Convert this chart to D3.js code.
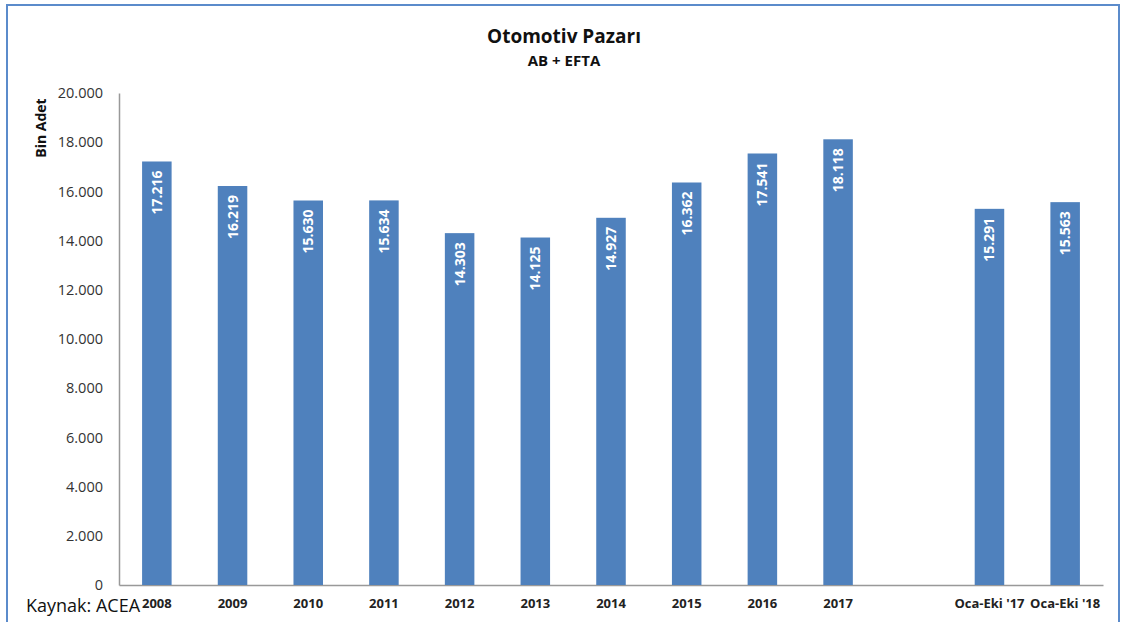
<!DOCTYPE html>
<html>
<head>
<meta charset="utf-8">
<script src="https://cdn.jsdelivr.net/npm/d3@7"></script>
<style>
  html, body { margin: 0; padding: 0; background: #fff; }
  svg { display: block; font-family: "Open Sans", "Noto Sans", sans-serif; }
</style>
</head>
<body>
<div id="mainDiv"></div>
<script>
'use strict';

// chart values (bin adet)
var categories = ['2008', '2009', '2010', '2011', '2012', '2013', '2014', '2015', '2016', '2017', '', "Oca-Eki '17", "Oca-Eki '18"];
var values = [17216, 16219, 15630, 15634, 14303, 14125, 14927, 16362, 17541, 18118, null, 15291, 15563];
var yTicks = [0, 2000, 4000, 6000, 8000, 10000, 12000, 14000, 16000, 18000, 20000];

var W = 1121, H = 622;
var margins = { top: 93, left: 119, right: 18, bottom: 37 };
var cw = 1103 - margins.left;
var ch = 585 - margins.top;

var fmt = function (v) {
    return v === 0 ? '0' : d3.format(',')(v).replace(/,/g, '.');
};

var svg = d3.select('#mainDiv').append('svg')
    .attr('width', W)
    .attr('height', H);

// outer frame
svg.append('rect')
    .attr('x', 7).attr('y', 5)
    .attr('width', 1112).attr('height', 630)
    .attr('fill', 'none')
    .attr('stroke', '#5b8bcb')
    .attr('stroke-width', 2);

svg.append('text')
    .attr('x', 564).attr('y', 43)
    .attr('text-anchor', 'middle')
    .attr('font-size', '19px')
    .attr('font-weight', 'bold')
    .attr('fill', '#111')
    .text('Otomotiv Pazarı');

svg.append('text')
    .attr('x', 564).attr('y', 66)
    .attr('text-anchor', 'middle')
    .attr('font-size', '15px')
    .attr('font-weight', 'bold')
    .attr('fill', '#111')
    .text('AB + EFTA');

var xScale = d3.scaleBand().domain(categories).range([0, cw]).paddingInner(0.61).paddingOuter(0.305);
var yScale = d3.scaleLinear().domain([0, 20000]).range([ch, 0]);

var g = svg.append('g')
    .attr('transform', 'translate(' + margins.left + ',' + margins.top + ')');

var yAxis = d3.axisLeft(yScale).tickValues(yTicks).tickFormat(fmt).tickSize(0).tickPadding(16);
var yAxisGroup = g.append('g').attr('class', 'yAxis').call(yAxis);
yAxisGroup.select('.domain').attr('stroke', '#999').attr('stroke-width', 1.5);
yAxisGroup.selectAll('text')
    .attr('font-size', '14.5px')
    .attr('fill', '#333')
    .attr('font-family', '"Open Sans", sans-serif');

var xAxis = d3.axisBottom(xScale).tickSize(0).tickPadding(14);
var xAxisGroup = g.append('g').attr('class', 'xAxis')
    .attr('transform', 'translate(0,' + ch + ')')
    .call(xAxis);
xAxisGroup.select('.domain').attr('stroke', '#999').attr('stroke-width', 1.5);
xAxisGroup.selectAll('text')
    .attr('font-size', '13px')
    .attr('font-weight', 'bold')
    .attr('fill', '#222')
    .attr('font-family', '"Open Sans", sans-serif');

var data = categories.map(function (c, i) { return { cat: c, val: values[i] }; })
    .filter(function (d) { return d.val !== null; });

g.selectAll('rect.bar')
    .data(data)
    .enter()
    .append('rect')
        .attr('class', 'bar')
        .attr('x', function (d) { return xScale(d.cat); })
        .attr('y', function (d) { return yScale(d.val); })
        .attr('width', xScale.bandwidth())
        .attr('height', function (d) { return ch - yScale(d.val); })
        .attr('fill', '#4f81bd');

g.selectAll('text.lbl')
    .data(data)
    .enter()
    .append('text')
        .attr('class', 'lbl')
        .attr('transform', function (d) {
            var x = xScale(d.cat) + xScale.bandwidth() / 2 + 5;
            var y = yScale(d.val) + 9;
            return 'translate(' + x + ',' + y + ') rotate(-90)';
        })
        .attr('text-anchor', 'end')
        .attr('font-size', '14px')
        .attr('font-weight', 'bold')
        .attr('fill', '#fff')
        .text(function (d) { return fmt(d.val); });

svg.append('text')
    .attr('transform', 'translate(46,128) rotate(-90)')
    .attr('text-anchor', 'middle')
    .attr('font-size', '14px')
    .attr('font-weight', 'bold')
    .attr('fill', '#111')
    .text('Bin Adet');

svg.append('text')
    .attr('x', 26).attr('y', 612)
    .attr('font-size', '18px')
    .attr('fill', '#111')
    .text('Kaynak: ACEA');
</script>
</body>
</html>
